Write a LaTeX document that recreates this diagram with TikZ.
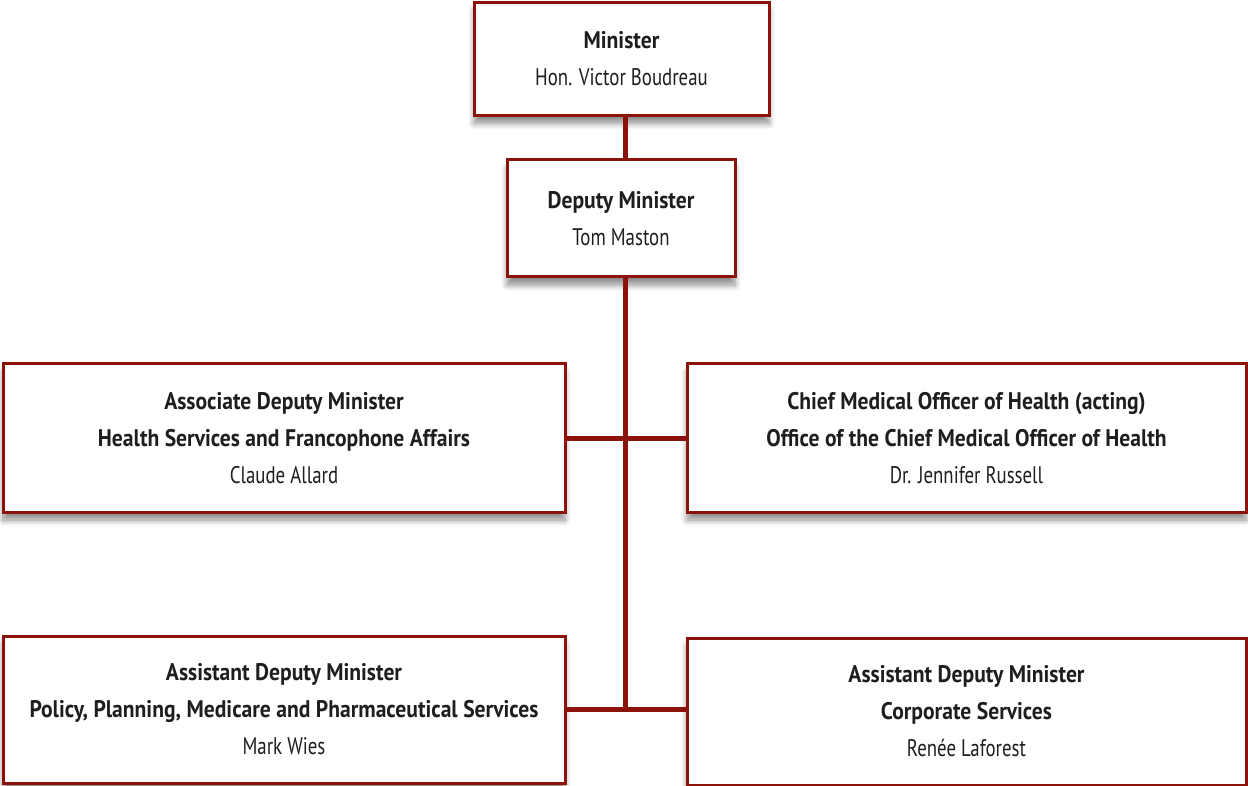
\documentclass[tikz,border=0pt]{standalone}
\usepackage{fontspec}
\setmainfont{PT Sans}[UprightFeatures={FakeStretch=0.785}, BoldFeatures={FakeStretch=0.9}]
\usetikzlibrary{shadows.blur}
\definecolor{boxred}{RGB}{140,18,12}
\definecolor{txt}{RGB}{30,30,30}
\tikzset{
  orgbox/.style={draw=boxred, line width=3pt, fill=white, align=center, text=txt,
    inner sep=0pt, font=\fontsize{24}{37}\selectfont,
    blur shadow={shadow xshift=0pt, shadow yshift=-8pt, shadow blur steps=8, shadow blur radius=6pt, shadow opacity=45}},
  link/.style={draw=boxred, line width=5pt}
}
\begin{document}
\begin{tikzpicture}[x=1pt,y=-1pt]
\useasboundingbox (0,0) rectangle (1248,786);
\node[orgbox, minimum width=295pt, minimum height=113pt] (min) at (621.5,59)
  {\textbf{Minister}\\Hon. Victor Boudreau};
\node[orgbox, minimum width=228pt, minimum height=117pt] (dep) at (621,218.5)
  {\textbf{Deputy Minister}\\Tom Maston};
\node[orgbox, minimum width=562pt, minimum height=148pt] (assoc) at (284,438)
  {\textbf{Associate Deputy Minister}\\\textbf{Health Services and Francophone Affairs}\\Claude Allard};
\node[orgbox, minimum width=559pt, minimum height=148pt] (chief) at (966.5,438)
  {\textbf{Chief Medical Officer of Health (acting)}\\\textbf{Office of the Chief Medical Officer of Health}\\Dr. Jennifer Russell};
\node[orgbox, minimum width=562pt, minimum height=147pt] (asstl) at (284,709.5)
  {\textbf{Assistant Deputy Minister}\\\textbf{Policy, Planning, Medicare and Pharmaceutical Services}\\Mark Wies};
\node[orgbox, minimum width=559pt, minimum height=147pt] (asstr) at (966.5,711.5)
  {\textbf{Assistant Deputy Minister}\\\textbf{Corporate Services}\\Renée Laforest};
\coordinate (j1) at (625,438);
\coordinate (j2) at (625,709);
\draw[link] (min.south -| j1) -- (dep.north -| j1);
\draw[link] (dep.south -| j1) -- (j2);
\draw[link] (assoc.east) -- (chief.west);
\draw[link] (asstl.east) -- (asstr.west |- asstl.east);
\end{tikzpicture}
\end{document}
